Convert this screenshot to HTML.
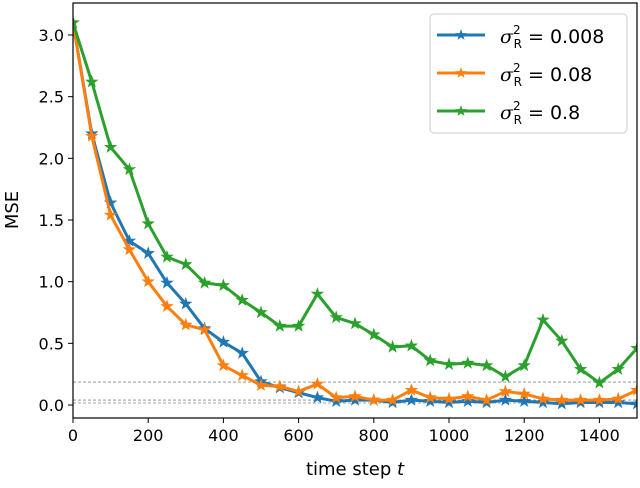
<!DOCTYPE html>
<html><head><meta charset="utf-8"><style>
body{margin:0;background:#fff;}
svg{font-family:"DejaVu Sans","Liberation Sans",sans-serif;}
</style></head><body>
<svg id="chart" width="640" height="483" viewBox="0 0 640 483" xmlns="http://www.w3.org/2000/svg">
<defs><clipPath id="clip"><rect x="73" y="3" width="564" height="415"/></clipPath></defs>
<g id="grid"></g>
<g id="series" clip-path="url(#clip)"></g>
<rect x="73" y="3" width="564" height="415" fill="none" stroke="#000" stroke-width="1.2"/>
<g id="axes"></g>
<text x="355" y="475" text-anchor="middle" font-size="18">time step <tspan font-style="italic">t</tspan></text>
<text x="18" y="210" text-anchor="middle" font-size="18" transform="rotate(-90 18 210)">MSE</text>
<g>
<rect x="430" y="14" width="197" height="119" rx="4" fill="#fff" stroke="#ccc"/>
<g id="legend"></g>
</g>
</svg>
<script>
const xs=[0,50,100,150,200,250,300,350,400,450,500,550,600,650,700,750,800,850,900,950,1000,1050,1100,1150,1200,1250,1300,1350,1400,1450,1500];
const blue=[3.1,2.2,1.64,1.33,1.23,0.99,0.82,0.62,0.51,0.42,0.19,0.14,0.1,0.06,0.03,0.04,0.04,0.02,0.04,0.03,0.02,0.03,0.02,0.04,0.03,0.02,0.01,0.02,0.02,0.02,0.01];
const orange=[3.1,2.18,1.54,1.26,1.0,0.8,0.65,0.61,0.32,0.24,0.16,0.15,0.11,0.17,0.06,0.07,0.04,0.04,0.12,0.06,0.05,0.07,0.04,0.11,0.09,0.05,0.04,0.04,0.04,0.05,0.12];
const green=[3.1,2.62,2.09,1.91,1.47,1.2,1.14,0.99,0.97,0.85,0.75,0.64,0.64,0.9,0.71,0.66,0.57,0.47,0.48,0.36,0.33,0.34,0.32,0.23,0.32,0.69,0.52,0.29,0.18,0.29,0.46];
const hlines=[0.186,0.04,0.016];
const xTicks=[0,200,400,600,800,1000,1200,1400];
const yTicks=[0,0.5,1.0,1.5,2.0,2.5,3.0];
const seriesNames=["σ-0.008","σ-0.08","σ-0.8"];
const legendValues=["0.008","0.08","0.8"];
const colors=["#1f77b4","#ff7f0e","#2ca02c"];
const NS="http://www.w3.org/2000/svg";
const X=v=>73+v*(564/1500);
const Y=v=>405-v*(370/3);
function mk(tag,attrs,parent){const e=document.createElementNS(NS,tag);for(const k in attrs)e.setAttribute(k,attrs[k]);parent.appendChild(e);return e;}
const grid=document.getElementById('grid'),ser=document.getElementById('series'),axes=document.getElementById('axes'),leg=document.getElementById('legend');
hlines.forEach(h=>{const l=mk('line',{x1:73,x2:637,y1:Y(h),y2:Y(h),stroke:'#888','stroke-width':0.8,'stroke-dasharray':'3,2'},grid);

});
function star(cx,cy,r){let p=[];for(let i=0;i<10;i++){const a=-Math.PI/2+i*Math.PI/5;const rr=i%2?r*0.4:r;p.push((cx+rr*Math.cos(a)).toFixed(1)+','+(cy+rr*Math.sin(a)).toFixed(1));}return p.join(' ');}
[blue,orange,green].forEach((d,i)=>{
 const g=mk('g',{},ser);
 
 
 mk('polyline',{points:d.map((v,j)=>X(xs[j])+','+Y(v)).join(' '),fill:'none',stroke:colors[i],'stroke-width':3,'stroke-linejoin':'round'},g);
 d.forEach((v,j)=>{const s=mk('polygon',{points:star(X(xs[j]),Y(v),7),fill:colors[i]},g);
 
 });
});
xTicks.forEach(t=>{mk('line',{x1:X(t),x2:X(t),y1:418,y2:423,stroke:'#000'},axes);
 const tx=mk('text',{x:X(t),y:441,'text-anchor':'middle','font-size':16},axes);tx.textContent=t;
 
 });
yTicks.forEach(t=>{mk('line',{x1:68,x2:73,y1:Y(t),y2:Y(t),stroke:'#000'},axes);
 const tx=mk('text',{x:64,y:Y(t)+6,'text-anchor':'end','font-size':16},axes);tx.textContent=t.toFixed(1);
 
 });
legendValues.forEach((v,i)=>{const y=35+i*38;
 const g=mk('g',{},leg);
 
 
 mk('line',{x1:437,x2:485,y1:y,y2:y,stroke:colors[i],'stroke-width':3},g);
 mk('polygon',{points:star(461,y,6),fill:colors[i]},g);
 const t=mk('text',{x:500,y:y+8,'font-size':19},g);
 t.innerHTML='<tspan font-style="italic" font-family="DejaVu Serif, serif">σ</tspan><tspan font-size="12" dy="-9">2</tspan><tspan font-size="12" dx="-7" dy="14">R</tspan><tspan dy="-5"> = '+v+'</tspan>';
});
</script>
</body></html>
